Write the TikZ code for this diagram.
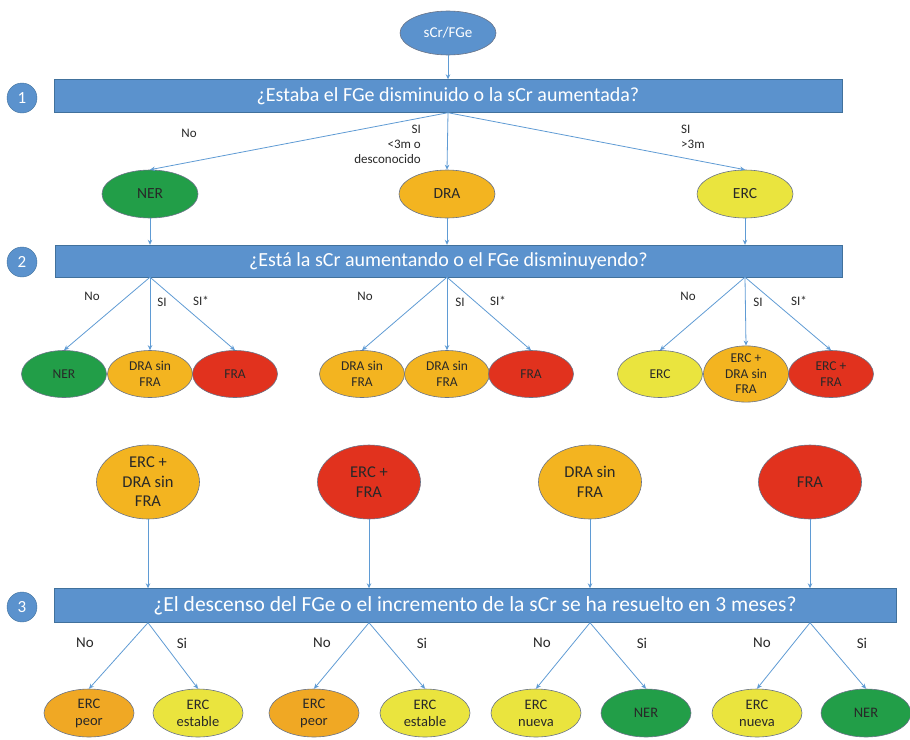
\documentclass[tikz,border=0pt]{standalone}
\usepackage{fontspec}
\setmainfont{Carlito}
\usetikzlibrary{shapes.geometric,arrows.meta}
\definecolor{barblue}{RGB}{91,146,205}
\definecolor{barline}{RGB}{65,113,156}
\definecolor{linkblue}{RGB}{95,155,212}
\definecolor{edgegray}{RGB}{105,115,135}
\definecolor{nergreen}{RGB}{34,158,72}
\definecolor{draorange}{RGB}{243,180,32}
\definecolor{peororange}{RGB}{240,168,36}
\definecolor{ercyellow}{RGB}{234,228,62}
\definecolor{frared}{RGB}{225,50,30}
\definecolor{labelgray}{RGB}{40,40,40}
\tikzset{
	qbar/.style={draw=barline, fill=barblue, text=white, inner sep=0pt, font=\fontsize{20}{22}\selectfont},
	stepnum/.style={circle, draw=barline, fill=barblue, text=white, minimum size=30pt, inner sep=0pt, font=\fontsize{17}{18}\selectfont},
	res/.style={ellipse, draw=edgegray, line width=0.6pt, inner sep=0pt, align=center, text=labelgray, minimum width=85pt, minimum height=47pt, font=\fontsize{13.5}{16}\selectfont},
	big/.style={res, minimum width=103pt, minimum height=74pt, font=\fontsize{16.5}{19.5}\selectfont},
	low/.style={res, minimum width=90pt, minimum height=48pt, font=\fontsize{14.5}{17}\selectfont},
	conn/.style={draw=linkblue, line width=0.8pt, -{Stealth[length=5pt,width=4.5pt]}},
	lbl/.style={text=labelgray, inner sep=0pt, font=\fontsize{13}{15}\selectfont},
}
\begin{document}
\begin{tikzpicture}[x=1pt,y=-1pt]
	\useasboundingbox (0,0) rectangle (910,739);
	% inicio y pregunta 1
	\node[res, fill=barblue, text=white, minimum width=96pt, minimum height=44pt, font=\fontsize{15}{16}\selectfont] (inicio) at (448,33) {sCr/FGe};
	\node[qbar, minimum width=788pt, minimum height=33pt] (q1) at (448,96) {¿Estaba el FGe disminuido o la sCr aumentada?};
	\node[stepnum] (n1) at (22,98) {1};
	\draw[conn] (inicio) -- (q1);
	\node[res, fill=nergreen, minimum width=96pt, minimum height=48pt, font=\fontsize{15.5}{16}\selectfont] (ner1) at (150,194) {NER};
	\node[res, fill=draorange, minimum width=96pt, minimum height=48pt, font=\fontsize{15.5}{16}\selectfont] (dra1) at (447,194) {DRA};
	\node[res, fill=ercyellow, minimum width=96pt, minimum height=48pt, font=\fontsize{15.5}{16}\selectfont] (erc1) at (745,194) {ERC};
	\foreach \t in {ner1,dra1,erc1}
		\draw[conn] (q1.south) -- (\t.north);
	\node[lbl] (l1no) at (189,133) {No};
	\node[lbl, align=right, anchor=north east] (l1si) at (421,125) {SI\\<3m o\\desconocido};
	\node[lbl, align=left, anchor=north west] (l1mas) at (681,125) {SI\\>3m};

	% pregunta 2
	\node[qbar, minimum width=787pt, minimum height=32pt] (q2) at (448.5,261) {¿Está la sCr aumentando o el FGe disminuyendo?};
	\node[stepnum] (n2) at (22,262) {2};
	\foreach \t in {ner1,dra1,erc1}
		\draw[conn] (\t) -- (\t |- q2.north);
	\node[res, fill=nergreen] (a1) at (64,374) {NER};
	\node[res, fill=draorange] (a2) at (150,374) {DRA sin\\FRA};
	\node[res, fill=frared] (a3) at (235,374) {FRA};
	\node[res, fill=draorange] (b1) at (362,374) {DRA sin\\FRA};
	\node[res, fill=draorange] (b2) at (447,374) {DRA sin\\FRA};
	\node[res, fill=frared] (b3) at (531,374) {FRA};
	\node[res, fill=ercyellow] (c1) at (660,374) {ERC};
	\node[res, fill=draorange, font=\fontsize{13.5}{15.5}\selectfont] (c2) at (746,374) {ERC +\\DRA sin\\FRA};
	\node[res, fill=frared] (c3) at (831,374) {ERC +\\FRA};
	\foreach \s/\g in {ner1/a,dra1/b,erc1/c}
		\foreach \i in {1,2,3}
			\draw[conn] (q2.south -| \s) -- (\g\i.north);
	\foreach \x/\n in {92/1,365/2,688/3}
		\node[lbl] (l2no\n) at (\x,296) {No};
	\foreach \x/\n in {162/1,460/2,758/3}
		\node[lbl] (l2si\n) at (\x,302) {SI};
	\foreach \x/\n in {201/1,498/2,799/3}
		\node[lbl] (l2sx\n) at (\x,301) {SI*};

	% pregunta 3
	\node[big, fill=draorange] (d1) at (148,482) {ERC +\\DRA sin\\FRA};
	\node[big, fill=frared] (d2) at (369,482) {ERC +\\FRA};
	\node[big, fill=draorange] (d3) at (590,482) {DRA sin\\FRA};
	\node[big, fill=frared] (d4) at (810,482) {FRA};
	\node[qbar, minimum width=842pt, minimum height=34pt, font=\fontsize{21.5}{23}\selectfont] (q3) at (475,605.5) {¿El descenso del FGe o el incremento de la sCr se ha resuelto en 3 meses?};
	\node[stepnum] (n3) at (22,607) {3};
	\foreach \t in {d1,d2,d3,d4}
		\draw[conn] (\t) -- (\t |- q3.north);
	\node[low, fill=peororange] (e1) at (89,713) {ERC\\peor};
	\node[low, fill=ercyellow] (e2) at (198,713) {ERC\\estable};
	\node[low, fill=peororange] (e3) at (314,713) {ERC\\peor};
	\node[low, fill=ercyellow] (e4) at (425,713) {ERC\\estable};
	\node[low, fill=ercyellow] (e5) at (536,713) {ERC\\nueva};
	\node[low, fill=nergreen] (e6) at (646,713) {NER};
	\node[low, fill=ercyellow] (e7) at (757,713) {ERC\\nueva};
	\node[low, fill=nergreen] (e8) at (866,713) {NER};
	\foreach \s/\a/\b in {d1/e1/e2,d2/e3/e4,d3/e5/e6,d4/e7/e8}{
		\draw[conn] (q3.south -| \s) -- (\a.north);
		\draw[conn] (q3.south -| \s) -- (\b.north);
	}
	\foreach \x/\n in {85/1,322/2,542/3,762/4}
		\node[lbl, font=\fontsize{15}{16}\selectfont] (l3no\n) at (\x,643) {No};
	\foreach \x/\n in {182/1,422/2,642/3,862/4}
		\node[lbl, font=\fontsize{15}{16}\selectfont] (l3si\n) at (\x,643) {Si};
\end{tikzpicture}
\end{document}
